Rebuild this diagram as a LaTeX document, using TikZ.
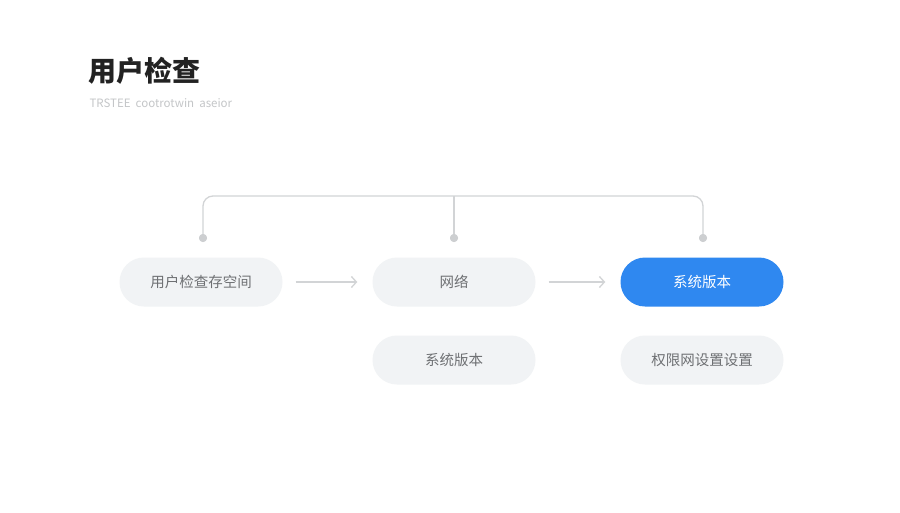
\documentclass[tikz,border=0pt]{standalone}
\usepackage{fontspec}
\setmainfont{Noto Sans CJK SC}
\usetikzlibrary{arrows.meta}
\definecolor{pillgray}{HTML}{F1F3F5}
\definecolor{pillblue}{HTML}{2F88F0}
\definecolor{linegray}{HTML}{D2D4D6}
\definecolor{dotgray}{HTML}{CDCFD1}
\definecolor{txtgray}{HTML}{6E7073}
\definecolor{subgray}{HTML}{C4C6C8}
\definecolor{titlecol}{HTML}{222222}
\tikzset{
  pill/.style={rounded corners=24.5pt, minimum width=163pt, minimum height=49pt, inner sep=0pt, fill=pillgray, text=txtgray, font=\fontsize{14.5}{16}\selectfont},
  pillact/.style={pill, fill=pillblue, text=white},
  flowarrow/.style={draw=linegray, line width=1.3pt, -{Straight Barb[length=5pt,width=11pt,line width=1.3pt]}},
  bracket/.style={draw=linegray, line width=1.3pt, rounded corners=10pt},
  dotmark/.style={circle, fill=dotgray, minimum size=8pt, inner sep=0pt},
}
\begin{document}
\begin{tikzpicture}[x=1pt,y=-1pt]
\fill[white] (0,0) rectangle (900,512);
\useasboundingbox (0,0) rectangle (900,512);
\node[anchor=west, text=titlecol, font=\fontsize{28}{32}\selectfont\bfseries] (title) at (85,71) {用户检查};
\node[anchor=west, text=subgray, font=\fontsize{11.5}{13}\selectfont] (sub) at (86,103) {TRSTEE\ \ cootrotwin\ \ aseior};
\node[pill] (a) at (201,282) {用户检查存空间};
\node[pill] (b) at (454,282) {网络};
\node[pillact] (c) at (702,282) {系统版本};
\node[pill] (d) at (454,360) {系统版本};
\node[pill] (e) at (702,360) {权限网设置设置};
\draw[flowarrow] ([xshift=13pt]a.east) -- ([xshift=-15pt]b.west);
\draw[flowarrow] ([xshift=13pt]b.east) -- ([xshift=-15pt]c.west);
\node[dotmark] (da) at (203,238) {};
\node[dotmark] (db) at (454,238) {};
\node[dotmark] (dc) at (703,238) {};
\coordinate (ta) at (203,196);
\coordinate (tc) at (703,196);
\draw[bracket] (da.center) -- (ta) -- (tc) -- (dc.center);
\draw[bracket] (db.center) -- (db.center |- ta);
\node[dotmark] at (da) {};
\node[dotmark] at (db) {};
\node[dotmark] at (dc) {};
\end{tikzpicture}
\end{document}
